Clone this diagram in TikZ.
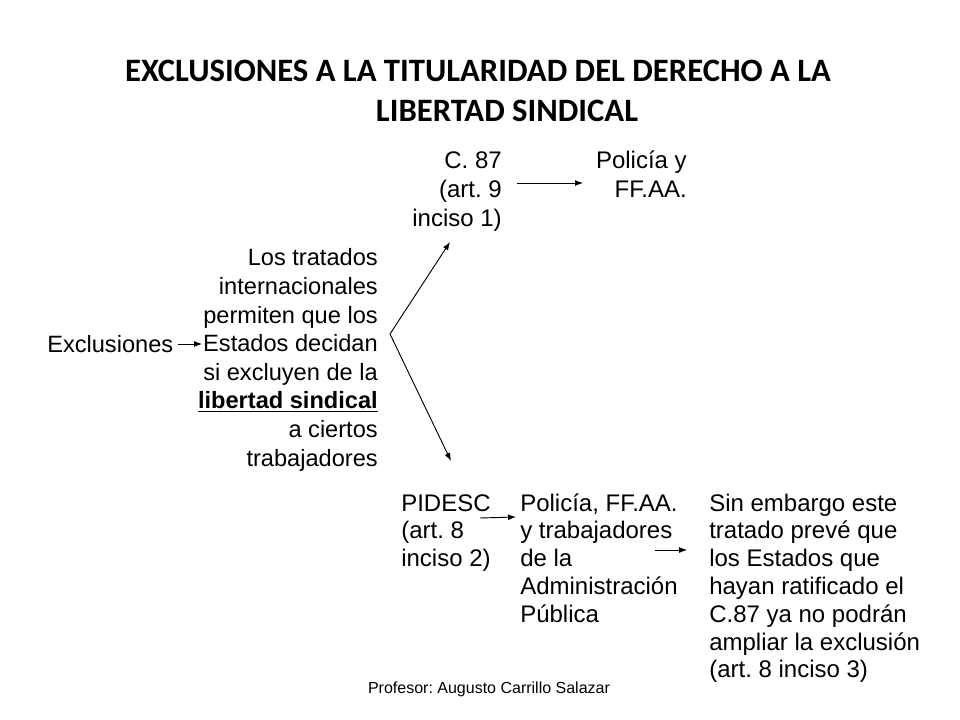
\documentclass[tikz,border=0pt]{standalone}
\usepackage{fontspec}
\setmainfont{Liberation Sans}
\newfontfamily\titlefont{Carlito}
\usetikzlibrary{arrows.meta}
\frenchspacing
\tikzset{
  body/.style={font=\fontsize{18}{21.5}\selectfont, inner sep=0pt},
  ttl/.style={font=\titlefont\bfseries\fontsize{24.5}{28}\selectfont, inner sep=0pt, anchor=base},
  arr/.style={-{Latex[length=6pt,width=4.5pt]}, line width=0.7pt},
}
\begin{document}
\begin{tikzpicture}[x=0.75pt,y=-0.75pt]
\useasboundingbox (0,0) rectangle (960,720);
\fill[white] (0,0) rectangle (960,720);
% title
\node[ttl] (t1) at (478,82) {EXCLUSIONES A LA TITULARIDAD DEL DERECHO A LA};
\node[ttl] (t2) at (507,122) {LIBERTAD SINDICAL};
% upper branch (base anchor = last line)
\node[body, font=\fontsize{18}{21.75}\selectfont, align=right, anchor=base east] (c87) at (502,227) {C. 87\\(art. 9\\inciso 1)};
\node[body, font=\fontsize{18}{21.75}\selectfont, align=right, anchor=base east] (pol1) at (687,198) {Policía y\\FF.AA.};
% left block
\node[body, font=\fontsize{17.7}{21.45}\selectfont, anchor=base west] (excl) at (47,352) {Exclusiones};
\node[body, font=\fontsize{17.7}{21.45}\selectfont, align=right, anchor=base east] (trat) at (378,466) {Los tratados\\internacionales\\permiten que los\\Estados decidan\\si excluyen de la\\\underline{\textbf{libertad sindical}}\\a ciertos\\trabajadores};
% lower branch
\node[body, font=\fontsize{18}{20.85}\selectfont, align=left, anchor=base west] (pid) at (401,566.6) {PIDESC\\(art. 8\\inciso 2)};
\node[body, font=\fontsize{18}{20.85}\selectfont, align=left, anchor=base west] (pol2) at (520,622.2) {Policía, FF.AA.\\y trabajadores\\de la\\Administración\\Pública};
\node[body, font=\fontsize{18}{20.85}\selectfont, align=left, anchor=base west] (sin) at (709,677.8) {Sin embargo este\\tratado prevé que\\los Estados que\\hayan ratificado el\\C.87 ya no podrán\\ampliar la exclusión\\(art. 8 inciso 3)};
% footer
\node[font=\fontsize{12}{14}\selectfont, inner sep=0pt, anchor=base] (prof) at (489,693) {Profesor: Augusto Carrillo Salazar};
% connector points
\coordinate (fork) at (390,334);
\coordinate (upTip) at (450,242);
\coordinate (lowTip) at (451,461);
\coordinate (exA) at (178,344);
\coordinate (exB) at (202,344);
\coordinate (cA) at (517,183);
\coordinate (cB) at (583,183);
\coordinate (pA) at (480,518);
\coordinate (pB) at (516,517);
\coordinate (qA) at (655,550);
\coordinate (qB) at (687,550);
\draw[arr] (exA) -- (exB);
\draw[arr] (fork) -- (upTip);
\draw[arr] (fork) -- (lowTip);
\draw[arr] (cA) -- (cB);
\draw[arr] (pA) -- (pB);
\draw[arr] (qA) -- (qB);
\end{tikzpicture}
\end{document}
